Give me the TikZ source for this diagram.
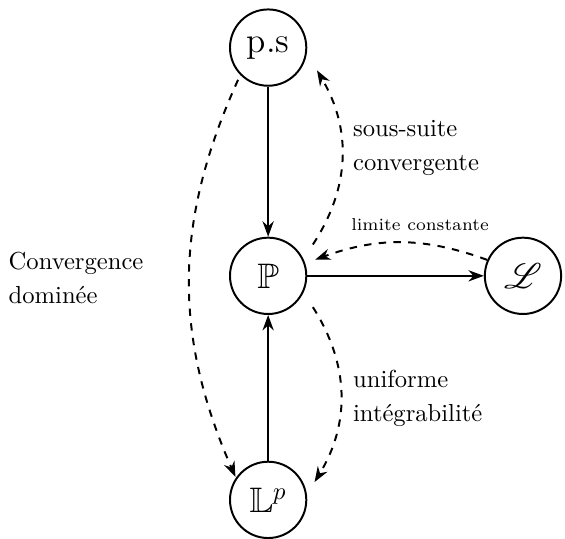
\documentclass[tikz,border=0pt]{standalone}
\usepackage{amsmath}
\usepackage{amsfonts}
\usepackage{mathrsfs}
\usepackage{tikz}
\usetikzlibrary{arrows.meta}
\newcommand{\fleche}{-{Stealth[length=2.2mm,width=1.6mm]}}

\begin{document}
\begin{tikzpicture}[thick,
    mode/.style={draw,circle,minimum size=1.09cm,inner sep=0pt,font=\Large},
    texte/.style={align=left,anchor=west,inner sep=0pt}]
            \useasboundingbox (0,0) rectangle (8.07,-7.69);
            \node[mode] (ps) at (3.83,-0.68) {p.s};
            \node[mode] (P) at (3.83,-3.94) {$\mathbb{P}$};
            \node[mode] (L) at (7.47,-3.94) {$\mathscr{L}$};
            \node[mode] (Lp) at (3.83,-7.14) {$\mathbb{L}^p$};
            \node[texte] (dominee) at (0.11,-3.97) {Convergence\\[2pt]domin\'ee};
            \node[texte] (soussuite) at (5.03,-2.11) {sous-suite\\[2pt]convergente};
            \node[texte] (uniforme) at (5.03,-5.69) {uniforme\\[2pt]int\'egrabilit\'e};
            \node[font=\scriptsize] (constante) at (6.0,-3.21) {limite constante};
            \draw[\fleche] (ps) -- (P);
            \draw[\fleche] (Lp) -- (P);
            \draw[\fleche] (P) -- (L);
            \draw[\fleche,dashed] ([shift={(-133:0.63)}]ps.center) to[bend right=24] ([shift={(145:0.57)}]Lp.center);
            \draw[\fleche,dashed] ([shift={(35:0.78)}]P.center) to[bend right=32] ([shift={(-25:0.77)}]ps.center);
            \draw[\fleche,dashed] ([shift={(-35:0.78)}]P.center) to[bend left=32] ([shift={(21:0.71)}]Lp.center);
            \draw[\fleche,dashed] ([shift={(156:0.56)}]L.center) to[bend right=20] ([shift={(19:0.71)}]P.center);
        \end{tikzpicture}
\end{document}
